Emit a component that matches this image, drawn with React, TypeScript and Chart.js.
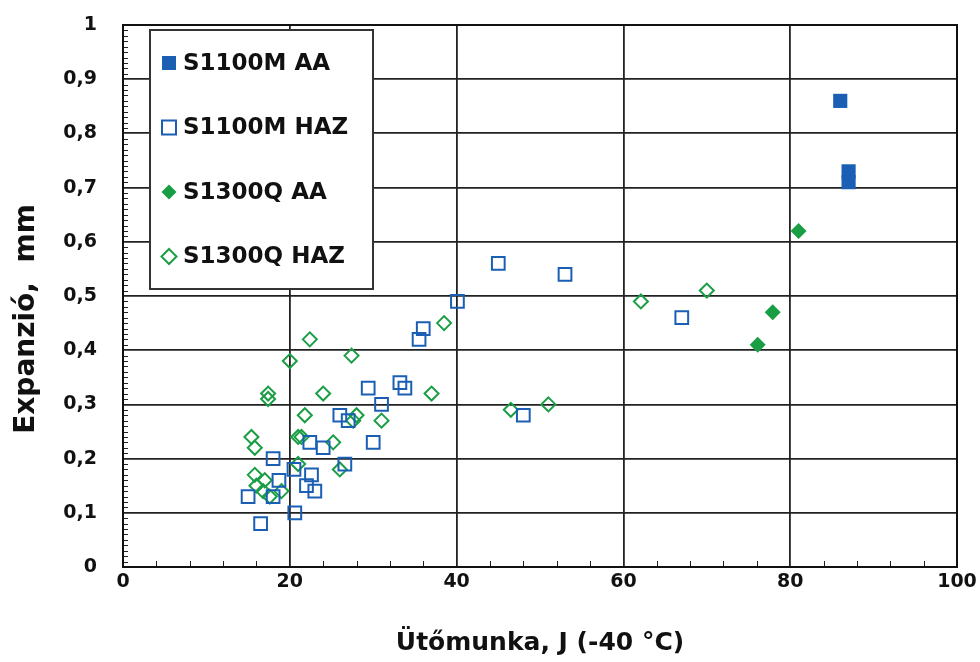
import { useEffect, useRef } from 'react';
import { Chart, registerables } from 'chart.js';

Chart.register(...registerables);

// Impact energy (J, -40 °C) vs. lateral expansion (mm)
const seriesNames = ['S1100M AA', 'S1100M HAZ', 'S1300Q AA', 'S1300Q HAZ'];

const s1100mAA: [number, number][] = [
  [86.0, 0.86], [87.0, 0.73], [87.0, 0.71],
];

const s1100mHAZ: [number, number][] = [
  [15.0, 0.13], [16.5, 0.08], [18.0, 0.20], [18.7, 0.16], [18.0, 0.13],
  [20.6, 0.10], [20.5, 0.18], [22.0, 0.15], [22.6, 0.17], [23.0, 0.14],
  [22.4, 0.23], [24.0, 0.22], [26.0, 0.28], [27.0, 0.27], [26.6, 0.19],
  [29.4, 0.33], [30.0, 0.23], [31.0, 0.30], [33.2, 0.34], [33.8, 0.33],
  [35.5, 0.42], [36.0, 0.44], [40.1, 0.49], [45.0, 0.56], [48.0, 0.28],
  [53.0, 0.54], [67.0, 0.46],
];

const s1300qAA: [number, number][] = [
  [76.1, 0.41], [77.9, 0.47], [81.0, 0.62],
];

const s1300qHAZ: [number, number][] = [
  [15.4, 0.24], [15.8, 0.22], [15.8, 0.17], [16.0, 0.15], [16.8, 0.14],
  [17.0, 0.16], [17.6, 0.13], [19.0, 0.14], [17.4, 0.32], [17.4, 0.31],
  [20.0, 0.38], [21.0, 0.24], [21.4, 0.24], [21.0, 0.19], [21.8, 0.28],
  [22.4, 0.42], [24.0, 0.32], [25.2, 0.23], [26.0, 0.18], [27.4, 0.39],
  [28.0, 0.28], [27.6, 0.27], [31.0, 0.27], [37.0, 0.32], [38.5, 0.45],
  [46.5, 0.29], [51.0, 0.30], [62.1, 0.49], [70.0, 0.51],
];

// Axis ranges and tick steps
const xMin = 0;
const xMax = 100;
const xMajorStep = 20;
const xMinorStep = 4;
const yMin = 0;
const yMax = 1;
const yMajorStep = 0.1;
const yMinorStep = 0.01;

const xTitle = 'Ütőmunka, J (-40 °C)';
const yTitle = 'Expanzió,  mm';

const BLUE = '#1a5fb4';
const GREEN = '#1a9e45';
const FONT = "'DejaVu Sans', 'Liberation Sans', Arial, sans-serif";

const toPoints = (arr: [number, number][]) => arr.map(([x, y]) => ({ x, y }));

const formatY = (v: number) => {
  const r = Math.round(v * 10) / 10;
  if (r === 0) return '0';
  if (r === 1) return '1';
  return r.toFixed(1).replace('.', ',');
};

type LegendItem = { label: string; style: 'rect' | 'rectRot'; fill: boolean; color: string };

const legendItems: LegendItem[] = [
  { label: seriesNames[0], style: 'rect', fill: true, color: BLUE },
  { label: seriesNames[1], style: 'rect', fill: false, color: BLUE },
  { label: seriesNames[2], style: 'rectRot', fill: true, color: GREEN },
  { label: seriesNames[3], style: 'rectRot', fill: false, color: GREEN },
];

// Minor ticks, plot frame, y-axis title and the boxed legend inside the plot area
const decorPlugin = {
  id: 'decor',
  afterDatasetsDraw(chart: any) {
    const { ctx, chartArea: a, scales } = chart;
    const xs = scales.x;
    const ys = scales.y;
    ctx.save();

    ctx.strokeStyle = '#222';
    ctx.lineWidth = 1;
    ctx.beginPath();
    for (let v = xMin + xMinorStep; v < xMax; v += xMinorStep) {
      if (Math.abs(v / xMajorStep - Math.round(v / xMajorStep)) < 1e-6) continue;
      const px = Math.round(xs.getPixelForValue(v)) + 0.5;
      ctx.moveTo(px, a.bottom);
      ctx.lineTo(px, a.bottom - 6);
    }
    const nMinor = Math.round((yMax - yMin) / yMinorStep);
    for (let i = 1; i < nMinor; i++) {
      const v = yMin + i * yMinorStep;
      if (i % Math.round(yMajorStep / yMinorStep) === 0) continue;
      const py = Math.round(ys.getPixelForValue(v)) + 0.5;
      ctx.moveTo(a.left, py);
      ctx.lineTo(a.left + 5, py);
    }
    ctx.stroke();

    ctx.lineWidth = 2;
    ctx.strokeStyle = '#111';
    ctx.strokeRect(a.left, a.top, a.right - a.left, a.bottom - a.top);

    // y-axis title, set a little below the plot's mid-height
    ctx.save();
    ctx.translate(27, (a.top + a.bottom) / 2 + 23);
    ctx.rotate(-Math.PI / 2);
    ctx.font = `bold 28px ${FONT}`;
    ctx.textAlign = 'center';
    ctx.textBaseline = 'middle';
    ctx.fillStyle = '#111';
    ctx.fillText(yTitle, 0, 0);
    ctx.restore();

    // legend box
    const bx = a.left + 27;
    const by = a.top + 5;
    const bw = 223;
    const bh = 259;
    ctx.fillStyle = '#fff';
    ctx.fillRect(bx, by, bw, bh);
    ctx.lineWidth = 2;
    ctx.strokeStyle = '#333';
    ctx.strokeRect(bx, by, bw, bh);

    ctx.font = `bold 23px ${FONT}`;
    ctx.textBaseline = 'middle';
    ctx.textAlign = 'left';
    legendItems.forEach((it, i) => {
      const cy = by + 33 + i * 64.5;
      const cx = bx + 19;
      ctx.beginPath();
      if (it.style === 'rect') {
        const h = 7;
        ctx.rect(cx - h, cy - h, 2 * h, 2 * h);
      } else {
        const r = 7.5;
        ctx.moveTo(cx, cy - r);
        ctx.lineTo(cx + r, cy);
        ctx.lineTo(cx, cy + r);
        ctx.lineTo(cx - r, cy);
        ctx.closePath();
      }
      if (it.fill) {
        ctx.fillStyle = it.color;
        ctx.fill();
      } else {
        ctx.fillStyle = '#fff';
        ctx.fill();
        ctx.lineWidth = 2;
        ctx.strokeStyle = it.color;
        ctx.stroke();
      }
      ctx.fillStyle = '#111';
      ctx.fillText(it.label, bx + 33, cy + 1);
    });

    ctx.restore();
  },
};

export default function App() {
  const canvasRef = useRef<HTMLCanvasElement | null>(null);

  useEffect(() => {
    document.body.style.margin = '0';
    document.body.style.background = '#fff';
    const canvas = canvasRef.current;
    if (!canvas) return;

    const chart = new Chart(canvas, {
      type: 'scatter',
      data: {
        datasets: [
          {
            label: seriesNames[1],
            data: toPoints(s1100mHAZ),
            pointStyle: 'rect',
            pointRadius: 9,
            pointBorderWidth: 2,
            borderColor: BLUE,
            backgroundColor: 'rgba(255,255,255,0)',
          },
          {
            label: seriesNames[3],
            data: toPoints(s1300qHAZ),
            pointStyle: 'rectRot',
            pointRadius: 7,
            pointBorderWidth: 2,
            borderColor: GREEN,
            backgroundColor: 'rgba(255,255,255,0)',
          },
          {
            label: seriesNames[0],
            data: toPoints(s1100mAA),
            pointStyle: 'rect',
            pointRadius: 10,
            pointBorderWidth: 0,
            borderColor: BLUE,
            backgroundColor: BLUE,
          },
          {
            label: seriesNames[2],
            data: toPoints(s1300qAA),
            pointStyle: 'rectRot',
            pointRadius: 8,
            pointBorderWidth: 0,
            borderColor: GREEN,
            backgroundColor: GREEN,
          },
        ],
      },
      options: {
        responsive: false,
        animation: false,
        layout: { padding: { top: 25, right: 23, left: 0, bottom: 0 } },
        plugins: {
          legend: { display: false },
          tooltip: { enabled: false },
        },
        scales: {
          x: {
            type: 'linear',
            min: xMin,
            max: xMax,
            afterFit: (s: any) => {
              s.height = 95;
              s.paddingLeft = 0;
              s.paddingRight = 0;
            },
            ticks: {
              stepSize: xMajorStep,
              color: '#111',
              padding: 4,
              maxRotation: 0,
              font: { family: FONT, size: 19, weight: 'bold' },
            },
            grid: { color: '#222', lineWidth: 1.8, drawTicks: false },
            border: { display: true, color: '#111', width: 2 },
            title: {
              display: true,
              text: xTitle,
              color: '#111',
              padding: { top: 0, bottom: 4 },
              font: { family: FONT, size: 25, weight: 'bold' },
            },
          },
          y: {
            type: 'linear',
            min: yMin,
            max: yMax,
            afterFit: (s: any) => {
              s.width = 123;
              s.paddingTop = 0;
              s.paddingBottom = 0;
            },
            ticks: {
              stepSize: yMajorStep,
              color: '#111',
              padding: 26,
              callback: (v: any) => formatY(Number(v)),
              font: { family: FONT, size: 19, weight: 'bold' },
            },
            grid: { color: '#222', lineWidth: 1.8, drawTicks: false },
            border: { display: true, color: '#111', width: 2 },
            title: { display: false, text: yTitle },
          },
        },
      },
      plugins: [decorPlugin],
    });

    return () => chart.destroy();
  }, []);

  return (
    <div style={{ width: 980, height: 662, background: '#fff' }}>
      <canvas ref={canvasRef} width={980} height={662} />
    </div>
  );
}
